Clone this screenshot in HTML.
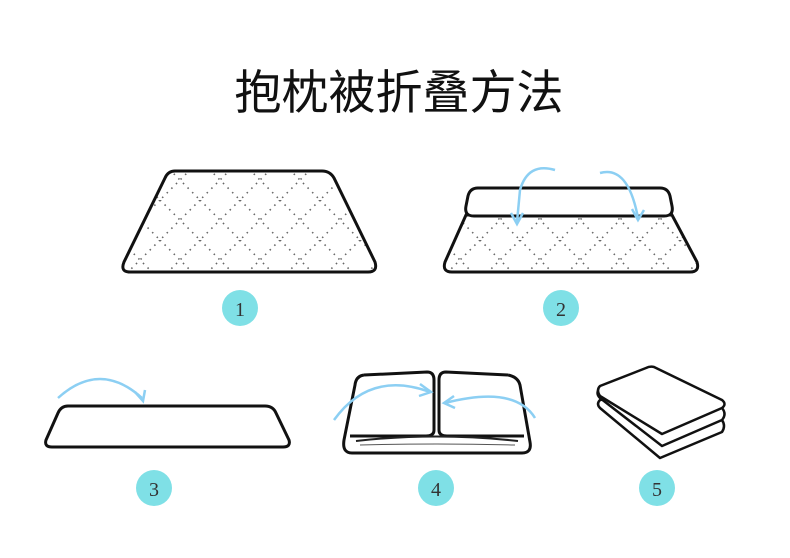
<!DOCTYPE html>
<html><head><meta charset="utf-8"><style>
html,body{margin:0;padding:0;background:#fff;}
svg{display:block;}
</style></head><body>
<svg width="790" height="558" viewBox="0 0 790 558" xmlns="http://www.w3.org/2000/svg">
<defs>
<pattern id="dia" width="40" height="40" patternUnits="userSpaceOnUse">
<path d="M0 0 L40 40 M40 0 L0 40" stroke="#666" stroke-width="1.6" stroke-dasharray="1.5 5" fill="none"/>
</pattern>
</defs>
<text x="399" y="109" text-anchor="middle" font-family="'Liberation Sans','Noto Sans CJK SC',sans-serif" font-size="47" fill="#111">抱枕被折叠方法</text>

<!-- shape 1 -->
<path d="M175 171 L322 171 Q330 171 334 178 L375 262 Q378 272 368 272 L130 272 Q120 272 124 262 L165 178 Q168 171 175 171Z" fill="url(#dia)" stroke="#111" stroke-width="3"/>
<circle cx="240" cy="308" r="18" fill="#7fe0e6"/>
<text x="240" y="316" text-anchor="middle" font-family="'Liberation Serif',serif" font-size="20" fill="#333">1</text>

<!-- shape 2 -->
<path d="M466 215 L672 215 L697 262 Q700 272 690 272 L452 272 Q442 272 445 262 Z" fill="url(#dia)" stroke="#111" stroke-width="3"/>
<path d="M478 188 L660 188 Q668 188 670 196 L672 206 Q674 216 664 216 L474 216 Q464 216 466 206 L468 196 Q470 188 478 188Z" fill="#fff" stroke="#111" stroke-width="3"/>
<path d="M555 170 Q528 162 520 190 L517 222" fill="none" stroke="#8ccff3" stroke-width="2.5"/>
<path d="M511 213 L517 224 L523 213" fill="none" stroke="#8ccff3" stroke-width="2.5"/>
<path d="M600 173 Q628 165 638 218" fill="none" stroke="#8ccff3" stroke-width="2.5"/>
<path d="M632 209 L638 220 L644 210" fill="none" stroke="#8ccff3" stroke-width="2.5"/>
<circle cx="561" cy="308" r="18" fill="#7fe0e6"/>
<text x="561" y="316" text-anchor="middle" font-family="'Liberation Serif',serif" font-size="20" fill="#333">2</text>

<!-- shape 3 -->
<path d="M68 406 L265 406 Q273 406 276 413 L289 440 Q291 447 283 447 L52 447 Q44 447 46 440 L58 413 Q61 406 68 406Z" fill="#fff" stroke="#111" stroke-width="3"/>
<path d="M58 398 Q100 360 142 398" fill="none" stroke="#8ccff3" stroke-width="2.5"/>
<path d="M135 392 L143 401 L145 390" fill="none" stroke="#8ccff3" stroke-width="2.5"/>
<circle cx="154" cy="488" r="18" fill="#7fe0e6"/>
<text x="154" y="496" text-anchor="middle" font-family="'Liberation Serif',serif" font-size="20" fill="#333">3</text>

<!-- shape 4 -->
<path d="M364 375 L427 372 Q434 372 434 380 L434 430 Q434 436 426 436 L350 436" fill="none" stroke="#111" stroke-width="3"/>
<path d="M508 375 L446 372 Q439 372 439 380 L439 430 Q439 436 447 436 L524 436" fill="none" stroke="#111" stroke-width="3"/>
<path d="M364 375 Q356 376 355 385 L344 440 Q342 453 352 453 L522 453 Q532 453 530 442 L520 385 Q518 377 508 375" fill="none" stroke="#111" stroke-width="3"/>
<path d="M356 441 Q436 432 518 441" fill="none" stroke="#222" stroke-width="2"/>
<path d="M360 445 Q436 443 515 445" fill="none" stroke="#555" stroke-width="1"/>
<path d="M334 420 Q370 370 430 392" fill="none" stroke="#8ccff3" stroke-width="2.5"/>
<path d="M420 384 L431 392 L419 396" fill="none" stroke="#8ccff3" stroke-width="2.5"/>
<path d="M535 418 Q515 385 445 403" fill="none" stroke="#8ccff3" stroke-width="2.5"/>
<path d="M454 396 L444 403 L455 408" fill="none" stroke="#8ccff3" stroke-width="2.5"/>
<circle cx="436" cy="488" r="18" fill="#7fe0e6"/>
<text x="436" y="496" text-anchor="middle" font-family="'Liberation Serif',serif" font-size="20" fill="#333">4</text>

<!-- shape 5 -->
<g fill="#fff" stroke="#111" stroke-width="2.5" stroke-linejoin="round">
<path d="M600 408 Q596 404 600 400 L650 392 L722 420 Q726 426 722 432 L660 458 Z"/>
<path d="M600 398 Q595 393 600 388 L650 380 L722 408 Q727 414 722 420 L662 446 Z"/>
<path d="M600 386 Q596 390 600 396 L662 434 L722 408 Q727 404 722 400 L654 367 Q650 366 646 368 Z"/>
</g>
<circle cx="657" cy="488" r="18" fill="#7fe0e6"/>
<text x="657" y="496" text-anchor="middle" font-family="'Liberation Serif',serif" font-size="20" fill="#333">5</text>
</svg>
</body></html>
